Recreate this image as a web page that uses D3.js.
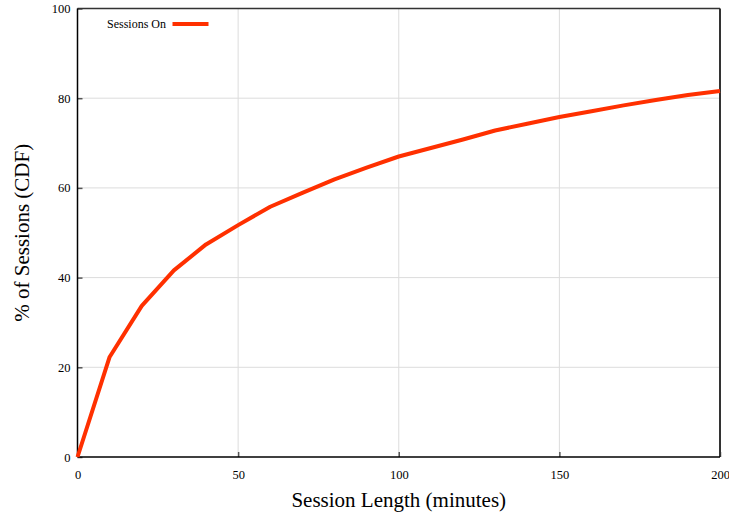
<!DOCTYPE html>
<html><head><meta charset="utf-8">
<script src="https://cdn.jsdelivr.net/npm/d3@7"></script>
<style>body{margin:0;background:#fff}svg{display:block}</style>
</head><body>
<svg id="chart" width="729" height="514"></svg>
<script>
const xValues = [0, 10, 20, 30, 40, 50, 60, 70, 80, 90, 100, 110, 120, 130, 140, 150, 160, 170, 180, 190, 200];
const sessionsOn = [0, 22.3, 33.7, 41.6, 47.4, 51.7, 55.8, 58.9, 61.9, 64.5, 67.0, 68.9, 70.8, 72.8, 74.3, 75.8, 77.1, 78.4, 79.6, 80.7, 81.6];
const xTicks = [0, 50, 100, 150, 200];
const yTicks = [0, 20, 40, 60, 80, 100];
const seriesName = "Sessions On";
const xTitle = "Session Length (minutes)";
const yTitle = "% of Sessions (CDF)";

const svg = d3.select("#chart");
const L = 77.5, R = 720, T = 8.5, B = 457;
const x = d3.scaleLinear().domain([0, 200]).range([L, R]);
const y = d3.scaleLinear().domain([0, 100]).range([B, T]);
const font = "'Liberation Serif','Times New Roman',serif";

// grid
svg.append("g").selectAll("line").data(xTicks.slice(1, -1)).join("line")
  .attr("x1", d => x(d)).attr("x2", d => x(d)).attr("y1", T).attr("y2", B)
  .attr("stroke", "#dcdcdc").attr("stroke-width", 1);
svg.append("g").selectAll("line").data(yTicks.slice(1, -1)).join("line")
  .attr("x1", L).attr("x2", R).attr("y1", d => y(d)).attr("y2", d => y(d))
  .attr("stroke", "#dcdcdc").attr("stroke-width", 1);

// axes (inward ticks)
const xa = svg.append("g").attr("transform", `translate(0,${B})`)
  .call(d3.axisBottom(x).tickValues(xTicks).tickSizeInner(-5).tickSizeOuter(0).tickPadding(13).tickFormat(d3.format("d")));
const ya = svg.append("g").attr("transform", `translate(${L},0)`)
  .call(d3.axisLeft(y).tickValues(yTicks).tickSizeInner(-5).tickSizeOuter(0).tickPadding(7).tickFormat(d3.format("d")));
[xa, ya].forEach(a => {
  a.attr("font-family", font).attr("font-size", 12.5);
  a.select(".domain").remove();
  a.selectAll(".tick line").attr("stroke", "#555").attr("stroke-width", 1.5);
  a.selectAll(".tick text").attr("font-family", font).attr("font-size", 12.5).attr("fill", "#000");
});

// frame
svg.append("line").attr("x1", L).attr("x2", R).attr("y1", T).attr("y2", T).attr("stroke", "#333").attr("stroke-width", 1.5);
svg.append("line").attr("x1", R).attr("x2", R).attr("y1", T).attr("y2", B).attr("stroke", "#333").attr("stroke-width", 2);
svg.append("line").attr("x1", L).attr("x2", R).attr("y1", B).attr("y2", B).attr("stroke", "#000").attr("stroke-width", 1.5);
svg.append("line").attr("x1", L).attr("x2", L).attr("y1", T).attr("y2", B).attr("stroke", "#000").attr("stroke-width", 1.5);

// line
const data = xValues.map((v, i) => [v, sessionsOn[i]]);
svg.append("path").datum(data)
  .attr("fill", "none").attr("stroke", "#ff3000").attr("stroke-width", 4)
  .attr("stroke-linejoin", "round")
  .attr("d", d3.line().x(d => x(d[0])).y(d => y(d[1])));

// legend
svg.append("text").attr("x", 166).attr("y", 28).attr("text-anchor", "end")
  .attr("font-family", font).attr("font-size", 12).text(seriesName);
svg.append("line").attr("x1", 172.5).attr("x2", 208.5).attr("y1", 24).attr("y2", 24)
  .attr("stroke", "#ff3000").attr("stroke-width", 4);

// titles
svg.append("text").attr("x", (L + R) / 2).attr("y", 507).attr("text-anchor", "middle")
  .attr("font-family", font).attr("font-size", 21).text(xTitle);
svg.append("text").attr("transform", `translate(29,${(T + B) / 2}) rotate(-90)`)
  .attr("text-anchor", "middle").attr("font-family", font).attr("font-size", 21).text(yTitle);
</script>
</body></html>
